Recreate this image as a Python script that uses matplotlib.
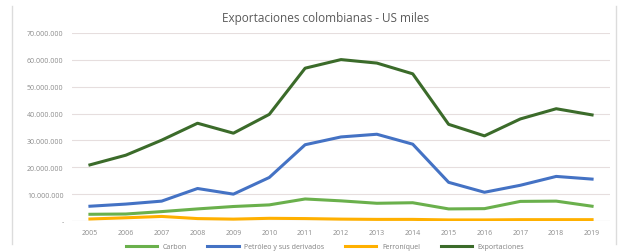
import matplotlib
matplotlib.use('Agg')
from matplotlib import pyplot as plt
from matplotlib.lines import Line2D
from matplotlib.ticker import FuncFormatter

years = [str(y) for y in range(2005, 2020)]
# valores en millones
carbon = [2.5, 2.6, 3.5, 4.5, 5.4, 6.0, 8.2, 7.5, 6.6, 6.8, 4.5, 4.6, 7.3, 7.4, 5.5]
petroleo = [5.5, 6.3, 7.4, 12.1, 10.0, 16.2, 28.4, 31.3, 32.3, 28.6, 14.4, 10.7, 13.3, 16.6, 15.6]
ferroniquel = [0.75, 1.2, 1.7, 0.9, 0.7, 1.0, 0.9, 0.7, 0.6, 0.6, 0.4, 0.4, 0.5, 0.5, 0.5]
exportaciones = [20.9, 24.5, 30.1, 36.4, 32.7, 39.7, 56.9, 60.1, 58.8, 54.8, 36.0, 31.7, 38.0, 41.8, 39.5]
series = [
    ('Carbon', carbon, '#6ab04c'),
    ('Petróleo y sus derivados', petroleo, '#4472c4'),
    ('Ferroníquel', ferroniquel, '#ffb000'),
    ('Exportaciones', exportaciones, '#3b6b2a'),
]

plt.rcParams['font.family'] = ['Open Sans', 'DejaVu Sans']
fig = plt.figure(figsize=(6.2, 2.53), dpi=100)
ax = fig.add_axes([72/620, 31/253, 538/620, 188/253])

x = list(range(len(years)))
for name, vals, color in series:
    ax.plot(x, [v * 1e6 for v in vals], color=color, lw=2.2, label=name)

ax.set_xlim(-0.5, len(years) - 0.5)
ax.set_ylim(0, 70e6)
ax.set_yticks([i * 10e6 for i in range(8)])
ax.yaxis.set_major_formatter(FuncFormatter(
    lambda v, p: '-' if v == 0 else f'{int(v):,}'.replace(',', '.')))
ax.set_xticks(x)
ax.set_xticklabels(years)
ax.tick_params(length=0, labelsize=5, colors='#8c8c8c', pad=6)
ax.grid(axis='y', color='#e6dede', lw=0.8)
ax.set_axisbelow(True)
for s in ax.spines.values():
    s.set_visible(False)
ax.axhline(0, color='#e0e0e0', lw=0.8, zorder=0)

fig.text(0.525, 0.925, 'Exportaciones colombianas - US miles', ha='center',
         va='center', fontsize=8.5, color='#5a5a5a')

ax.legend(loc='upper center', bbox_to_anchor=(0.47, -0.085), ncol=4, frameon=False,
          fontsize=5, labelcolor='#808080', handlelength=4.5, columnspacing=3)

# marco del recuadro
fig.add_artist(Line2D([12/620, 12/620], [8/253, 1 - 7/253], color='#dcdcdc', lw=1))
fig.add_artist(Line2D([616/620, 616/620], [8/253, 1 - 7/253], color='#dcdcdc', lw=1))

fig.savefig('out.png', dpi=100)
